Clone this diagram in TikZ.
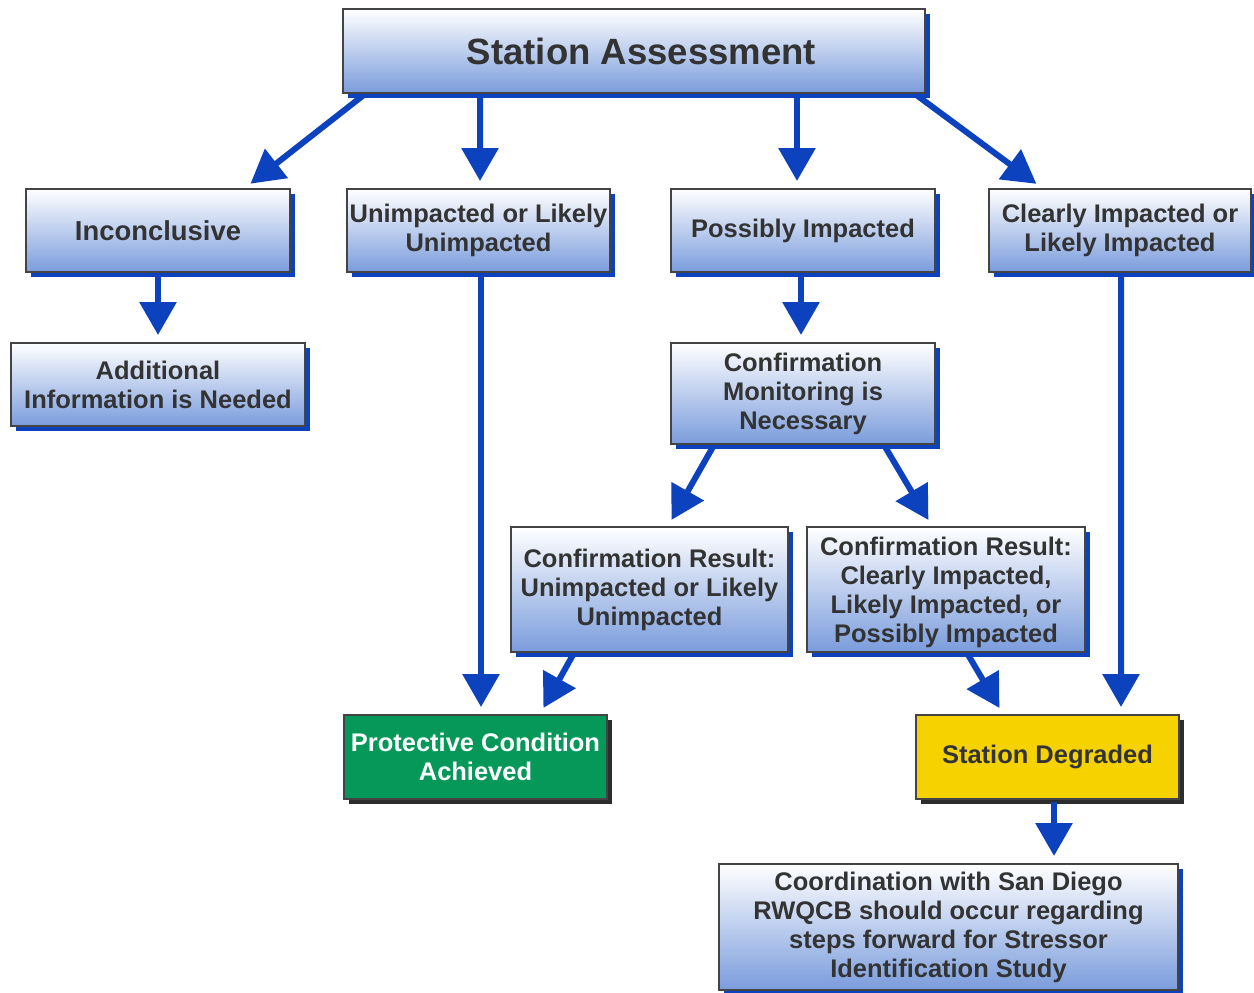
\documentclass[tikz,border=0pt]{standalone}
\usepackage{fontspec}
\setmainfont{Liberation Sans}
\usetikzlibrary{arrows.meta,shadows,calc}

\definecolor{flowblue}{RGB}{12,66,190}
\definecolor{boxblue}{RGB}{122,156,220}
\definecolor{boxline}{RGB}{68,68,68}
\definecolor{textgray}{RGB}{51,51,51}
\definecolor{passgreen}{RGB}{6,152,88}
\definecolor{failyellow}{RGB}{245,210,0}
\definecolor{darkshadow}{RGB}{45,45,45}

\tikzset{
  basebox/.style 2 args={rectangle, draw=boxline, line width=0.04cm, align=center,
    minimum width=#1*0.02cm, minimum height=#2*0.02cm, inner sep=0pt,
    font=\bfseries\fontsize{14.5}{16.5}\selectfont},
  stagebox/.style 2 args={basebox={#1}{#2}, top color=white, bottom color=boxblue,
    text=textgray,
    drop shadow={shadow xshift=0.1cm, shadow yshift=-0.1cm, fill=flowblue, opacity=1}},
  endbox/.style 2 args={basebox={#1}{#2},
    drop shadow={shadow xshift=0.1cm, shadow yshift=-0.1cm, fill=darkshadow, opacity=1}},
  flow/.style={draw=flowblue, line width=0.12cm,
    -{Triangle[length=0.66cm,width=0.72cm]}, shorten >=0.14cm, shorten <=0.04cm}
}

\begin{document}
\begin{tikzpicture}[x=0.02cm, y=-0.02cm]
  \useasboundingbox (0,0) rectangle (1254,992);

  % boxes
  \node[stagebox={582}{84}, font=\bfseries\fontsize{20.8}{24}\selectfont] (sa) at (634,51) {\hspace{0.3cm}Station Assessment};
  \node[stagebox={264}{83}, font=\bfseries\fontsize{15.6}{17}\selectfont] (inc) at (158,230.5) {Inconclusive};
  \node[stagebox={263}{83}] (unl) at (478.5,230.5) {Unimpacted or Likely\\Unimpacted};
  \node[stagebox={264}{83}] (pos) at (803,230.5) {Possibly Impacted};
  \node[stagebox={262}{83}] (cli) at (1120,230.5) {Clearly Impacted or\\Likely Impacted};
  \node[stagebox={294}{83}] (add) at (158,384.5) {Additional\\Information is Needed};
  \node[stagebox={264}{101}] (cmn) at (803,393.5) {Confirmation\\Monitoring is\\Necessary};
  \node[stagebox={277}{125}] (cru) at (649.5,589.5) {Confirmation Result:\\Unimpacted or Likely\\Unimpacted};
  \node[stagebox={278}{125}] (crc) at (946,589.5) {\\[-0.1cm]Confirmation Result:\\Clearly Impacted,\\Likely Impacted, or\\Possibly Impacted};
  \node[endbox={263}{84}, fill=passgreen, text=white] (pca) at (475.5,757) {Protective Condition\\Achieved};
  \node[endbox={263}{84}, fill=failyellow, text=textgray] (sd) at (1047.5,757) {Station Degraded};
  \node[stagebox={459}{126}] (coo) at (948.5,927) {Coordination with San Diego\\RWQCB should occur regarding\\steps forward for Stressor\\Identification Study};

  % connectors
  \draw[flow] ($(sa.south)+(-269,0)$) -- ($(inc.north)+(87,0)$);
  \draw[flow] ($(sa.south)+(-154,0)$) -- ($(unl.north)+(1.5,0)$);
  \draw[flow] ($(sa.south)+(163,0)$) -- ($(pos.north)+(-6,0)$);
  \draw[flow] ($(sa.south)+(281,0)$) -- ($(cli.north)+(-78,0)$);
  \draw[flow] (inc.south) -- (add.north);
  \draw[flow] ($(unl.south)+(2.5,0)$) -- ($(pca.north)+(5.5,0)$);
  \draw[flow] ($(pos.south)+(-2,0)$) -- ($(cmn.north)+(-2,0)$);
  \draw[flow] ($(cli.south)+(1,0)$) -- ($(sd.north)+(73.5,0)$);
  \draw[flow] ($(cmn.south)+(-89,0)$) -- ($(cru.north)+(18.5,0)$);
  \draw[flow] ($(cmn.south)+(81,0)$) -- ($(crc.north)+(-14,0)$);
  \draw[flow] ($(cru.south)+(-75.5,0)$) -- ($(pca.north)+(64.5,0)$);
  \draw[flow] ($(crc.south)+(21,0)$) -- ($(sd.north)+(-44.5,0)$);
  \draw[flow] ($(sd.south)+(6.5,0)$) -- ($(coo.north)+(105.5,0)$);
\end{tikzpicture}
\end{document}
